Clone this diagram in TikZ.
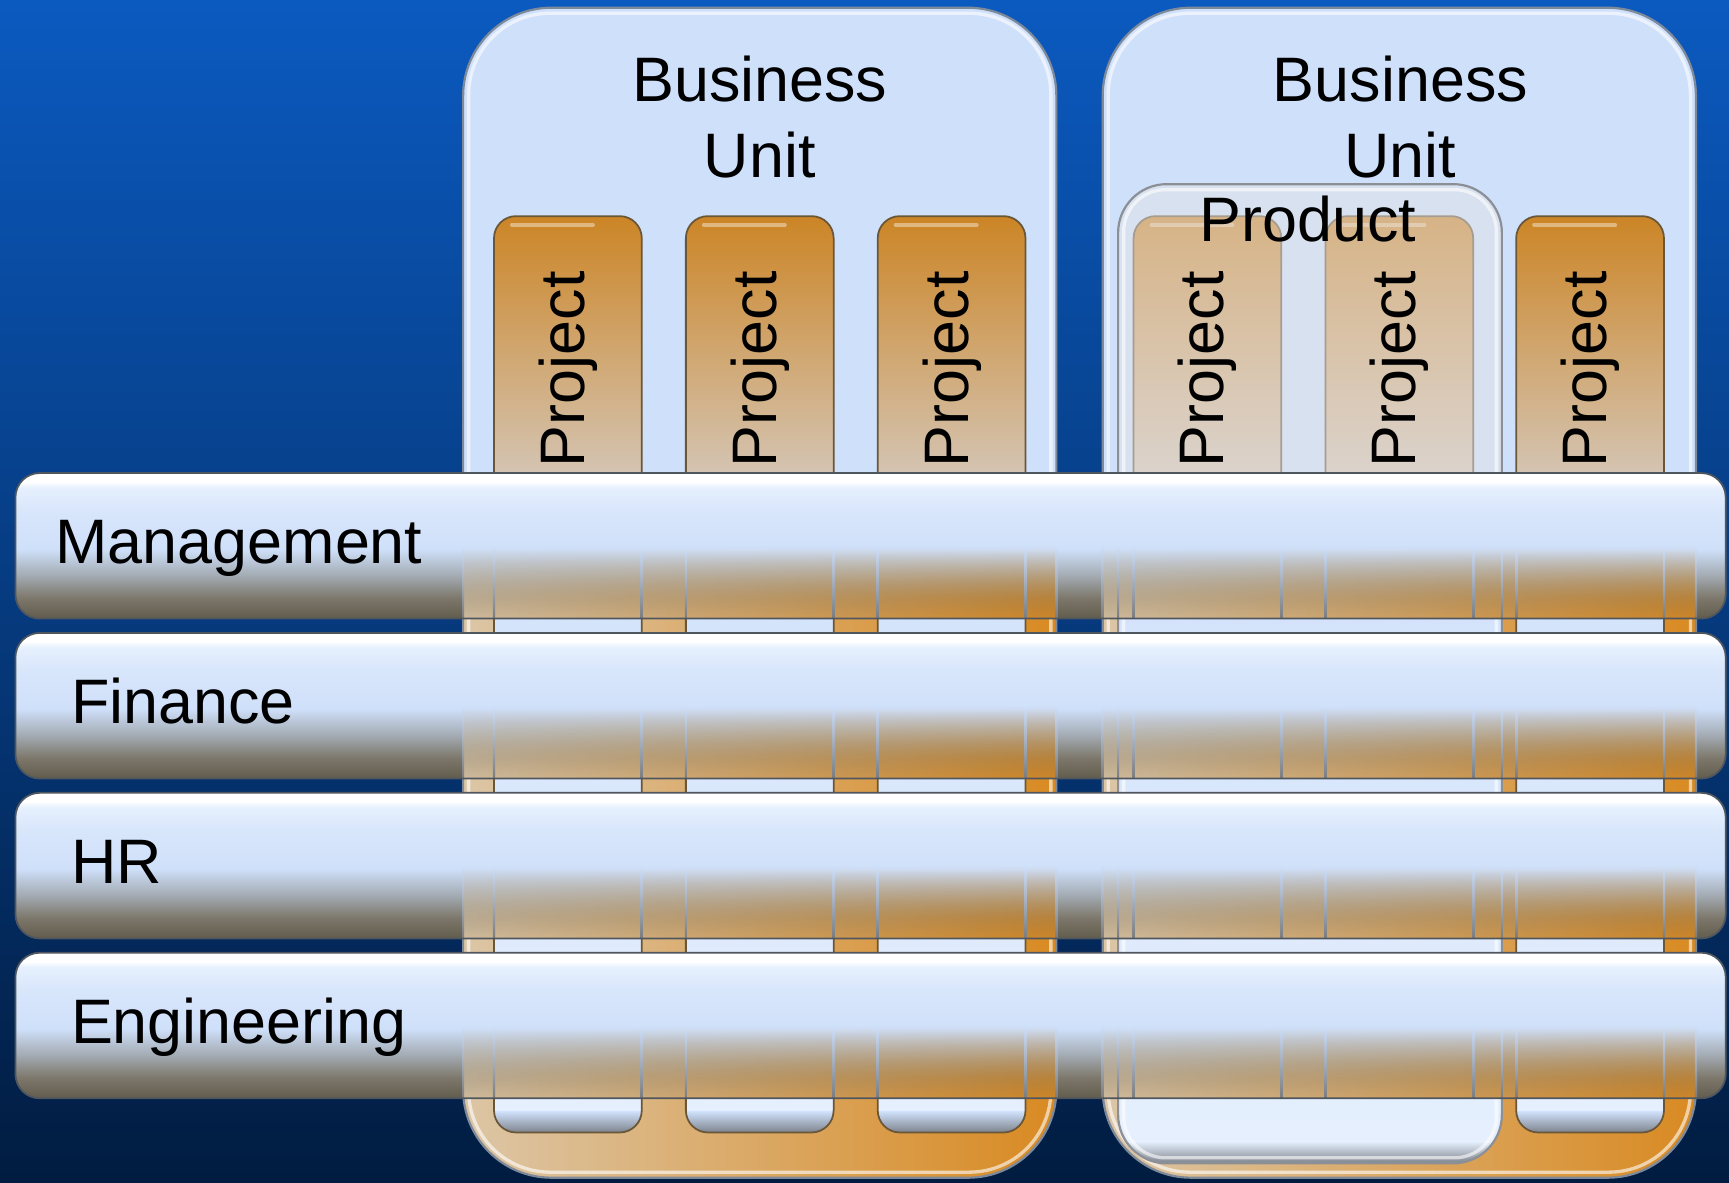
\documentclass[tikz,border=0pt]{standalone}
\usepackage{fontspec}
\setmainfont{Liberation Sans}
\usetikzlibrary{fadings}

\definecolor{bgtop}{HTML}{0B5AC0}
\definecolor{bgmid}{HTML}{06418C}
\definecolor{bgbot}{HTML}{011C40}
\definecolor{lblue}{HTML}{CFE0FA}
\definecolor{lblue2}{HTML}{D8E6FB}
\definecolor{lbluehi}{HTML}{E6F0FE}
\definecolor{porng}{HTML}{CC8526}
\definecolor{pmid}{HTML}{D3A466}
\definecolor{ptan}{HTML}{D4C4B2}
\definecolor{tanl}{HTML}{DCC6A6}
\definecolor{orngd}{HTML}{D98A22}
\definecolor{bandbot}{HTML}{625C4E}
\definecolor{bandlow}{HTML}{7C776A}
\definecolor{bandmid}{HTML}{A4ACB4}
\definecolor{edgec}{HTML}{50565E}
\definecolor{edgel}{HTML}{7A7C7E}
\definecolor{bordgray}{HTML}{7E8A9A}
\definecolor{pedge}{HTML}{6A5638}
\definecolor{pshadow}{HTML}{7C838C}
\definecolor{prodfill}{HTML}{E2E2E6}
\definecolor{prodedge}{HTML}{8C9096}

\pgfdeclareverticalshading{bandshade}{100bp}{color(0bp)=(bandbot); color(25bp)=(bandbot); color(32bp)=(bandlow); color(40bp)=(bandmid); color(49bp)=(lblue); color(62bp)=(lblue2); color(70bp)=(lbluehi); color(72bp)=(white); color(75bp)=(white); color(100bp)=(white)}

\tikzfading[name=fadeup, top color=transparent!100, bottom color=transparent!0]

\begin{document}
\begin{tikzpicture}[x=0.5pt,y=-0.5pt,
  lbl/.style={font=\fontsize{28.5}{34.5}\selectfont, text=black, inner sep=0pt},
  bandlbl/.style={lbl, anchor=base west},
  projlbl/.style={lbl, rotate=90, anchor=base west},
  bulbl/.style={lbl, align=center, anchor=north},
]
\useasboundingbox (0,0) rectangle (1568,1072);
% background
\shade[top color=bgtop, middle color=bgmid, bottom color=bgbot] (0,0) rectangle (1568,1072);

\def\bulist{420/958, 1000/1538}

% business units
\foreach \l/\r in \bulist {
  \begin{scope}
    \path[clip, rounded corners=40pt] (\l,7) rectangle (\r,1068);
    \fill[lblue] (\l,7) rectangle (\r,429);
    \shade[left color=tanl, right color=orngd] (\l,429) rectangle (\r,1068);
  \end{scope}
  \draw[white, opacity=0.6, line width=1.5pt, rounded corners=37pt] (\l+5,12) rectangle (\r-5,1063);
  \draw[bordgray, line width=1pt, rounded corners=40pt] (\l,7) rectangle (\r,1068);
}

% projects
\foreach \x in {448,622,796,1028,1202,1375} {
  \begin{scope}
    \path[clip, rounded corners=10pt] (\x,196) rectangle (\x+134,1027);
    \shade[top color=porng, middle color=pmid, bottom color=ptan] (\x,196) rectangle (\x+134,429);
    \shade[top color=lblue, bottom color=lbluehi] (\x,429) rectangle (\x+134,1027);
    \shade[top color=lblue, bottom color=pshadow] (\x,1008) rectangle (\x+134,1027);
  \end{scope}
  \draw[pedge, line width=0.8pt, rounded corners=10pt] (\x,196) rectangle (\x+134,1027);
  \draw[white, opacity=.4, line width=1.5pt, line cap=round] (\x+16,204) -- (\x+90,204);
}

% product box
\begin{scope}
  \path[clip, rounded corners=22pt] (1014,167) rectangle (1362,1055);
  \fill[prodfill, fill opacity=.5] (1014,167) rectangle (1362,429);
  \shade[top color=lblue, bottom color=lbluehi] (1014,429) rectangle (1362,1055);
  \shade[top color=lbluehi, bottom color=pshadow] (1014,1035) rectangle (1362,1055);
\end{scope}
\draw[white, opacity=.6, line width=1.5pt, rounded corners=19pt] (1019,172) rectangle (1357,1050);
\draw[prodedge, line width=1pt, rounded corners=22pt] (1014,167) rectangle (1362,1055);

% bands
\foreach \t in {429,574,719,864} {
  \shade[shading=bandshade, rounded corners=11pt] (14,\t) rectangle (1565,\t+132);
  \begin{scope}
    \path[clip, rounded corners=11pt] (14,\t) rectangle (1565,\t+132);
    \foreach \l/\r in \bulist {
      \shade[left color=tanl, right color=orngd, path fading=fadeup, fill opacity=0.9] (\l,\t+66) rectangle (\r,\t+132);
    }
    \foreach \e in {420,448,582,622,756,796,930,958,1000,1014,1028,1162,1202,1336,1362,1375,1509,1538} {
      \shade[top color=lblue, bottom color=edgel] (\e-1,\t+66) rectangle (\e+1,\t+132);
    }
  \end{scope}
  \draw[edgec, line width=0.8pt, rounded corners=11pt] (14,\t) rectangle (1565,\t+132);
}

% texts
\node[bulbl] (bu1) at (689,50) {Business\\Unit};
\node[bulbl] (bu2) at (1270,50) {Business\\Unit};
\node[lbl, anchor=base] (prod) at (1186,219) {Product};
\foreach \x [count=\i] in {448,622,796,1028,1202,1375} {
  \node[projlbl] (p\i) at (\x+82,424) {Project};
}
\node[bandlbl] (mgmt) at (50,511) {Management};
\node[bandlbl] (fin) at (64,656) {Finance};
\node[bandlbl] (hr) at (64,801) {HR};
\node[bandlbl] (eng) at (64,946) {Engineering};
\end{tikzpicture}
\end{document}
